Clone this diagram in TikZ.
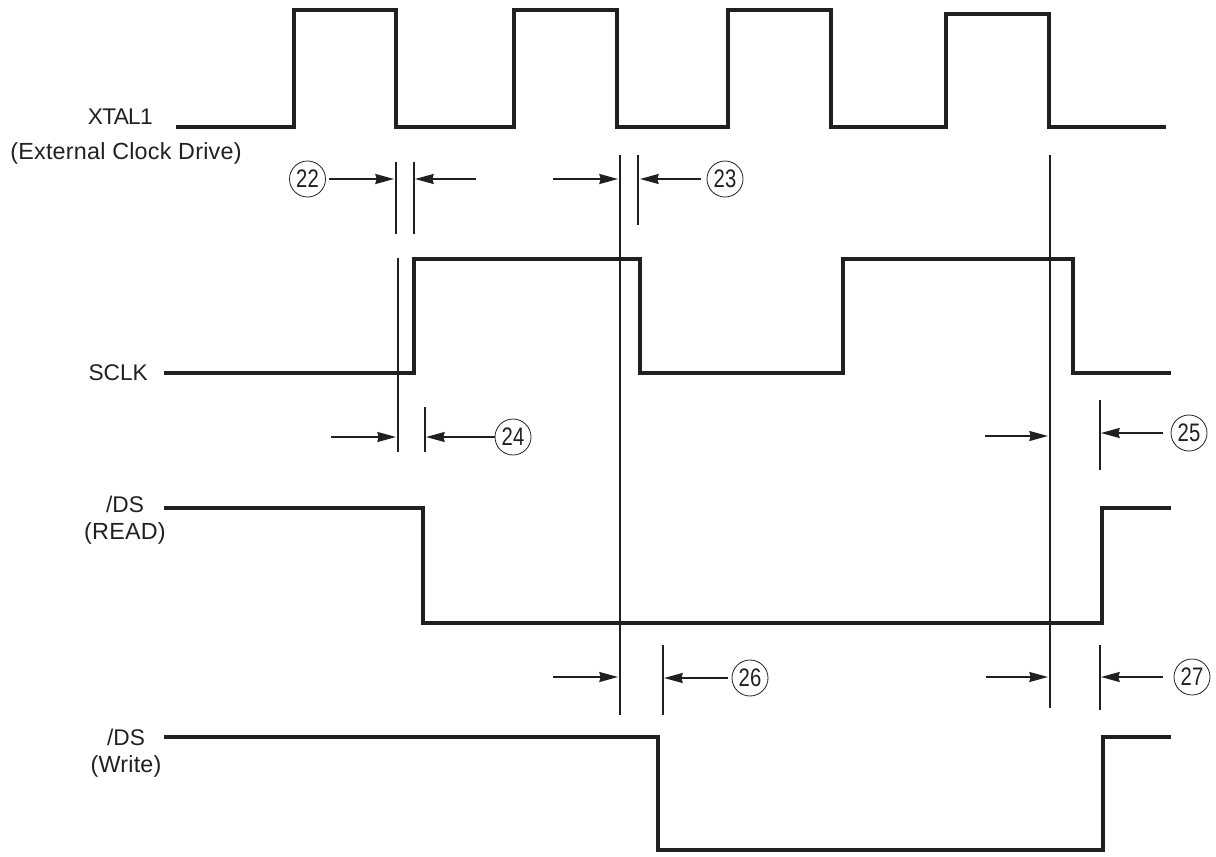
\documentclass[tikz,border=0pt]{standalone}
\usepackage{fontspec}
\setmainfont{Liberation Sans}
\usepackage{xcolor}
\usepackage{tikz}
\usetikzlibrary{arrows.meta,positioning}
\definecolor{ink}{RGB}{35,31,32}
\newcommand{\nar}[1]{\scalebox{0.8}[1]{#1}}
\tikzset{
    wave/.style={ink,line width=3pt,miter limit=2},
    tick/.style={ink,line width=1.1pt},
    gap/.style={ink,line width=1.2pt,-{Stealth[length=14pt,width=7.5pt,inset=1pt]}},
    num/.style={circle,draw=ink,line width=0.6pt,inner sep=0pt,minimum size=27pt,text=ink,font=\fontsize{19}{20}\selectfont},
    lab/.style={text=ink,inner sep=0pt,font=\fontsize{17}{18}\selectfont},
    note/.style={lab,font=\fontsize{17.5}{18}\selectfont\addfontfeature{LetterSpace=1}},
    tight/.style={lab,font=\fontsize{17}{18}\selectfont\addfontfeature{LetterSpace=-3}},
}
\begin{document}
\begin{tikzpicture}[x=0.75pt,y=-0.75pt]
    \useasboundingbox (0,0) rectangle (1216,856);
    % signals
    \draw[wave] (176,127)--(294,127)--(294,10)--(396,10)--(396,127)--(514,127)--(514,10)--(617,10)--(617,127)--(728,127)--(728,10)--(831,10)--(831,127)--(946,127)--(946,14)--(1049,14)--(1049,127)--(1166,127);
    \draw[wave] (164,373)--(414,373)--(414,259)--(640,259)--(640,373)--(843,373)--(843,259)--(1073,259)--(1073,373)--(1171,373);
    \draw[wave] (164,508)--(423,508)--(423,623)--(1102,623)--(1102,508)--(1171,508);
    \draw[wave] (164,737)--(658,737)--(658,850)--(1103,850)--(1103,737)--(1171,737);
    % labels
    \node[tight,anchor=east] (xtal) at (153,117) {XTAL1};
    \node[note] (ext) at (126,153) {(External Clock Drive)};
    \node[lab,anchor=east] (sclk) at (148,373) {SCLK};
    \node[lab] (dsr) at (125,504) {/DS};
    \node[note,below=22pt of dsr.center,anchor=center] (read) {(READ)};
    \node[lab] (dsw) at (126,737) {/DS};
    \node[note,below=22pt of dsw.center,anchor=center] (write) {(Write)};
    % edges
    \draw[tick] (396,162)--(396,234);
    \draw[tick] (414,162)--(414,234);
    \draw[tick] (620,155)--(620,715);
    \draw[tick] (638,155)--(638,225);
    \draw[tick] (398,258)--(398,452);
    \draw[tick] (425,407)--(425,452);
    \draw[tick] (1050,155)--(1050,708);
    \draw[tick] (1100,400)--(1100,470);
    \draw[tick] (663,645)--(663,715);
    \draw[tick] (1100,645)--(1100,710);
    % numbers
    \node[num] (n22) at (307.5,179) {\nar{22}};
    \node[num] (n23) at (725,179) {\nar{23}};
    \node[num] (n24) at (513,437) {\nar{24}};
    \node[num] (n25) at (1189,433) {\nar{25}};
    \node[num] (n26) at (750,678) {\nar{26}};
    \node[num] (n27) at (1192,677) {\nar{27}};
    % arrow ends
    \coordinate (a22) at (394,179);
    \coordinate (b22) at (415,179);
    \coordinate (c22) at (476,179);
    \coordinate (a23) at (618,179);
    \coordinate (b23) at (553,179);
    \coordinate (c23) at (640,179);
    \coordinate (a24) at (396,437);
    \coordinate (b24) at (331,437);
    \coordinate (c24) at (426,437);
    \coordinate (a25) at (1048,436);
    \coordinate (b25) at (985,436);
    \coordinate (c25) at (1101,433);
    \coordinate (a26) at (618,677);
    \coordinate (b26) at (553,677);
    \coordinate (c26) at (664,678);
    \coordinate (a27) at (1048,677);
    \coordinate (b27) at (986,677);
    \coordinate (c27) at (1101,677);
    \draw[gap,shorten <=2pt] (n22)--(a22);
    \draw[gap] (c22)--(b22);
    \draw[gap] (b23)--(a23);
    \draw[gap,shorten <=4pt] (n23)--(c23);
    \draw[gap] (b24)--(a24);
    \draw[gap] (n24)--(c24);
    \draw[gap] (b25)--(a25);
    \draw[gap,shorten <=6pt] (n25)--(c25);
    \draw[gap] (b26)--(a26);
    \draw[gap,shorten <=3pt] (n26)--(c26);
    \draw[gap] (b27)--(a27);
    \draw[gap,shorten <=8pt] (n27)--(c27);
\end{tikzpicture}
\end{document}
